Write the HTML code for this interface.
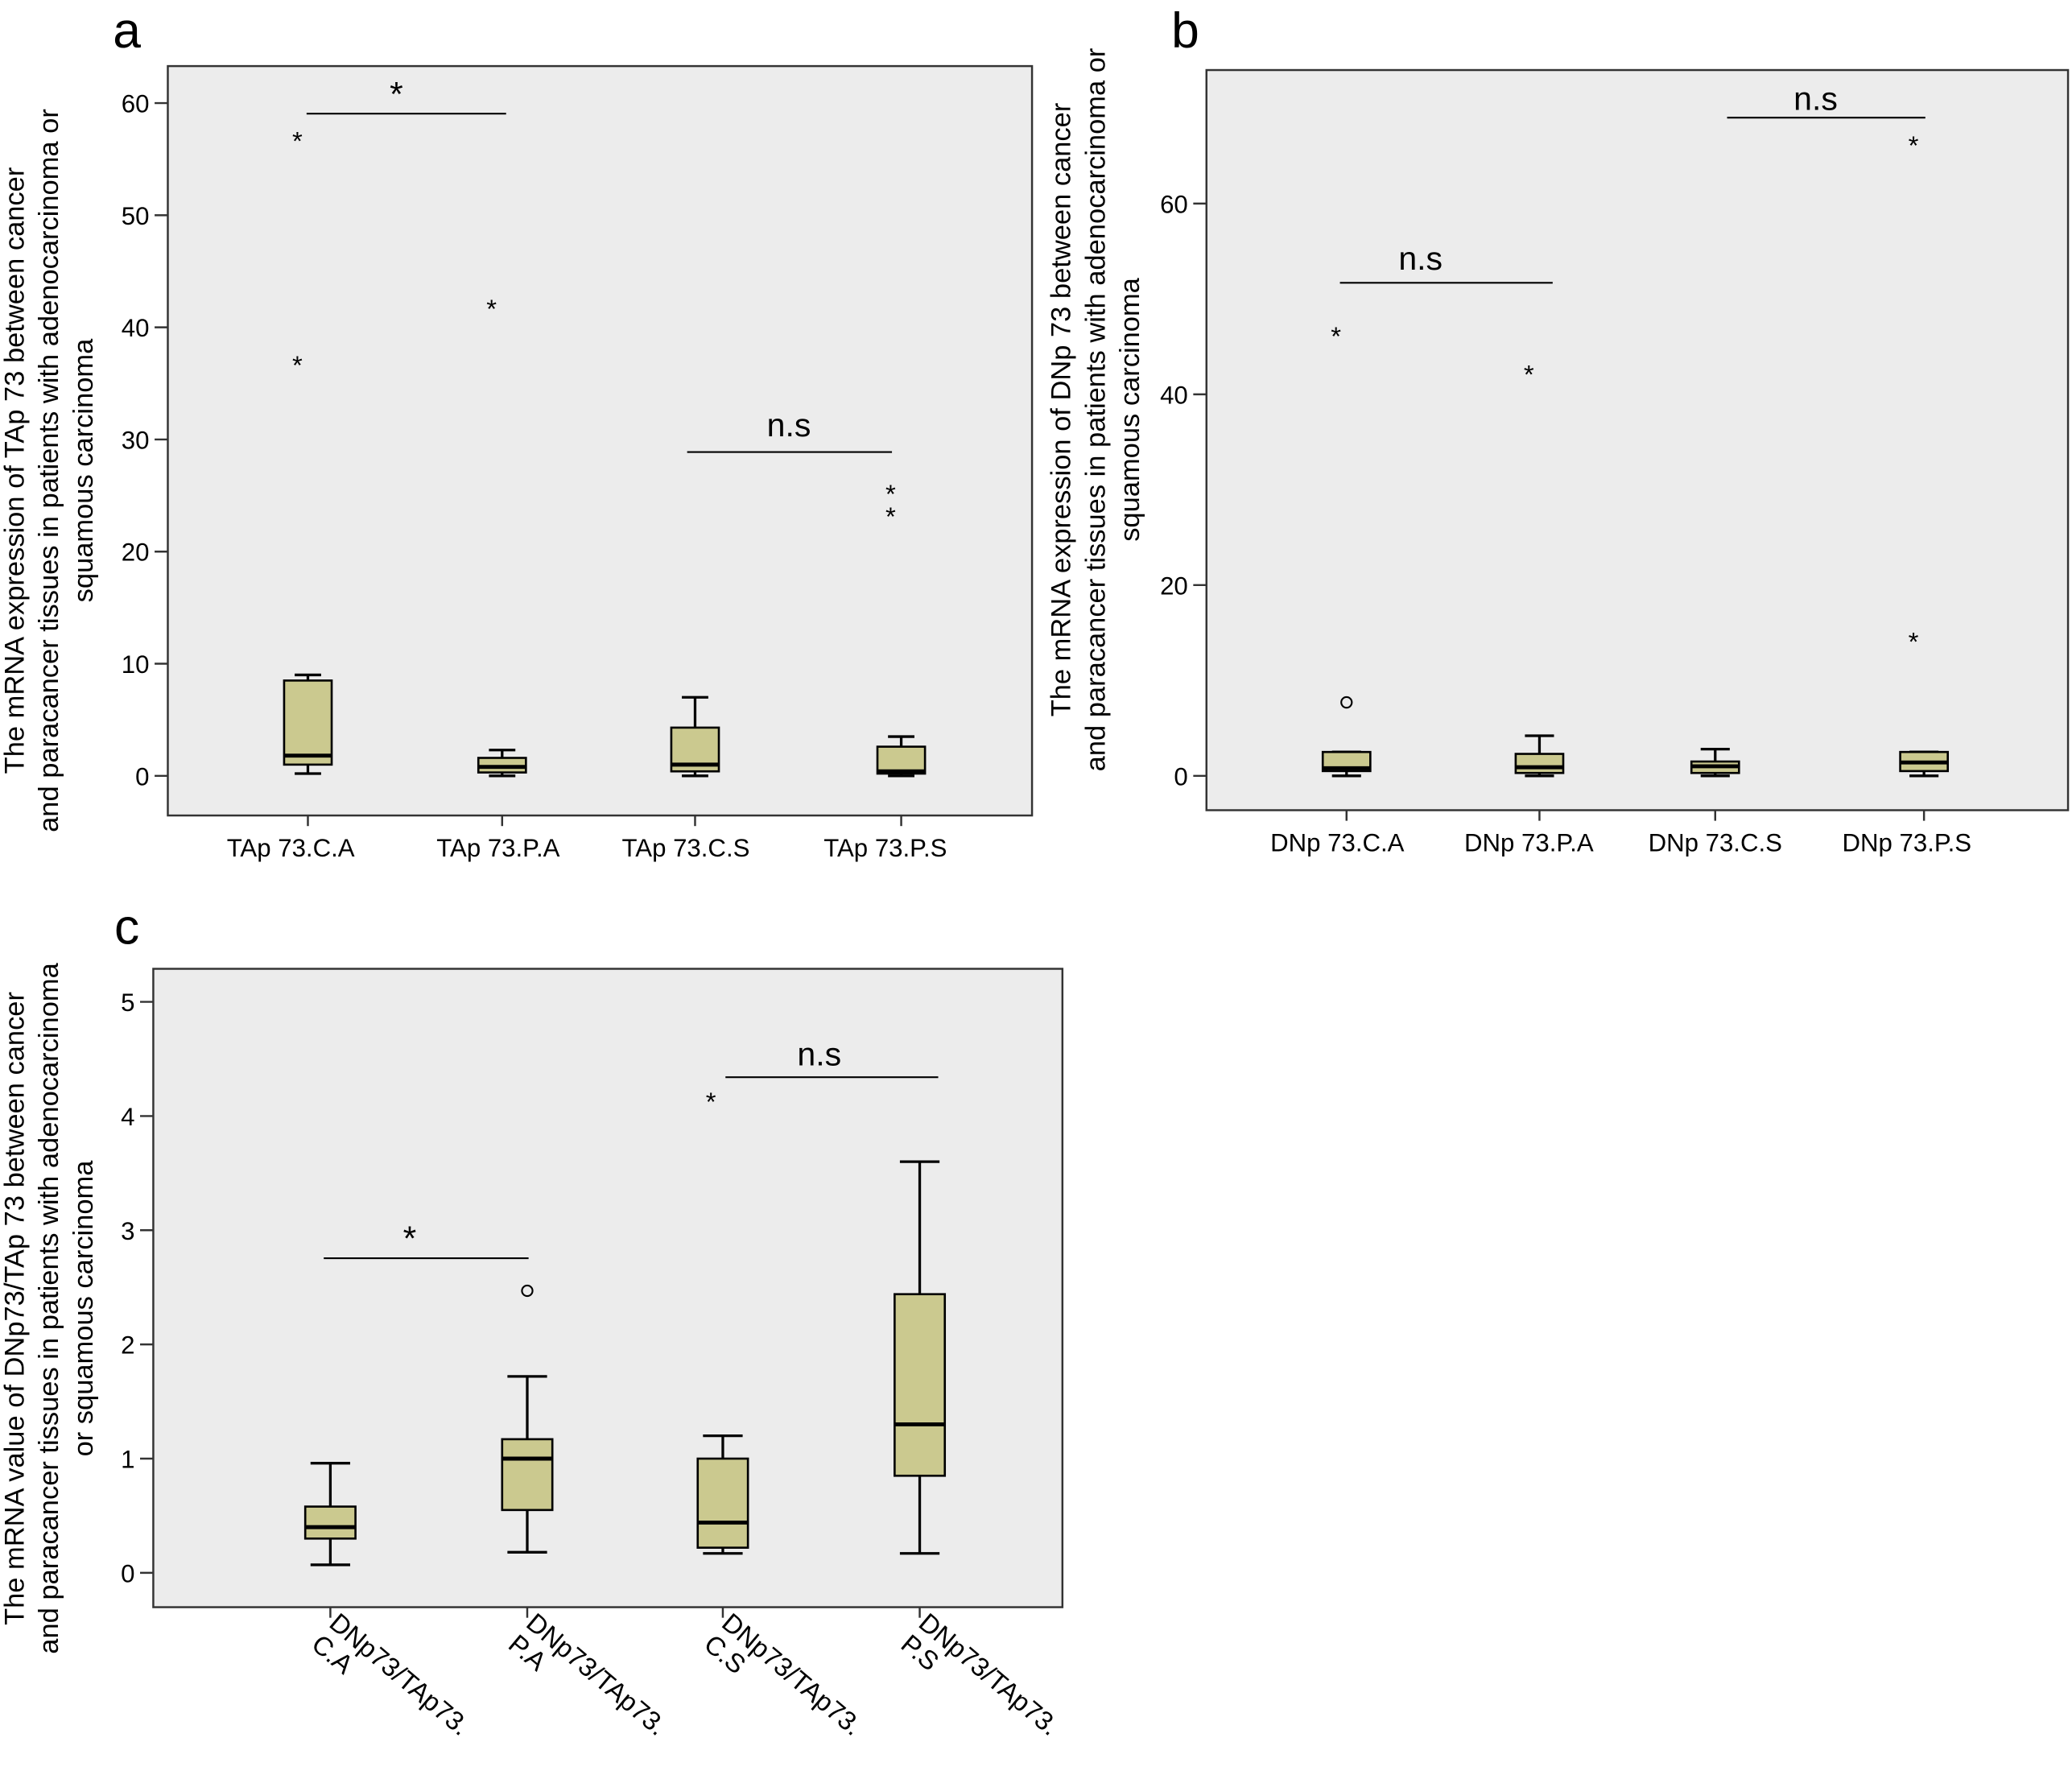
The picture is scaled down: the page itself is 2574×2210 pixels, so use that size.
<!DOCTYPE html>
<html><head><meta charset="utf-8"><style>
html,body{margin:0;padding:0;background:#fff;}
svg{display:block;font-family:"Liberation Sans",Arial,sans-serif;}
</style></head><body>
<svg id="root" width="2574" height="2210" viewBox="0 0 1568 1346" preserveAspectRatio="none" xmlns="http://www.w3.org/2000/svg"></svg>
<script>
// Panel a data
const catsA = ["TAp 73.C.A","TAp 73.P.A","TAp 73.C.S","TAp 73.P.S"];
const lowA = [0.2,0,0,0];
const q1A = [1,0.3,0.4,0.2];
const medA = [1.8,0.8,1,0.4];
const q3A = [8.5,1.6,4.3,2.6];
const highA = [9,2.3,7,3.5];
const starsA = [[57,37],[42],[],[25.5,23.5]];
const circA = [[],[],[],[]];
const ticksA = [0,10,20,30,40,50,60];
// Panel b data
const catsB = ["DNp 73.C.A","DNp 73.P.A","DNp 73.C.S","DNp 73.P.S"];
const lowB = [0,0,0,0];
const q1B = [0.5,0.3,0.3,0.5];
const medB = [0.8,0.9,1,1.4];
const q3B = [2.5,2.3,1.5,2.5];
const highB = [2.5,4.2,2.8,2.5];
const starsB = [[46.5],[42.5],[],[66.5,14.5]];
const circB = [[7.7],[],[],[]];
const ticksB = [0,20,40,60];
// Panel c data
const catsC = ["C.A","P.A","C.S","P.S"];
const lowC = [0.07,0.18,0.17,0.17];
const q1C = [0.3,0.55,0.22,0.85];
const medC = [0.4,1.0,0.44,1.3];
const q3C = [0.58,1.17,1.0,2.44];
const highC = [0.96,1.72,1.2,3.6];
const starsC = [[],[],[4.16],[]];
const circC = [[],[2.47],[],[]];
const ticksC = [0,1,2,3,4,5];

const NS="http://www.w3.org/2000/svg";
const root=document.getElementById('root');
function mk(tag,attrs,parent,text){const e=document.createElementNS(NS,tag);for(const k in attrs)e.setAttribute(k,attrs[k]);if(text!==undefined)e.textContent=text;(parent||root).appendChild(e);return e;}

function panel(cfg){
  const g=mk('g',{});
  
  
  const y=v=>cfg.y0-(v-0)*(cfg.y0-cfg.yTop)/(cfg.vTop);
  const bg=mk('rect',{x:cfg.L,y:cfg.T,width:cfg.R-cfg.L,height:cfg.B-cfg.T,fill:'#ececec',stroke:'#333','stroke-width':1.5},g);
  
  
  cfg.ticks.forEach(t=>{
    const l=mk('line',{x1:cfg.L-10,x2:cfg.L,y1:y(t),y2:y(t),stroke:'#333','stroke-width':1.5},g);
    
    
    const tx=mk('text',{x:cfg.L-14,y:y(t)+7,'text-anchor':'end','font-size':19},g,String(t));
    
    
  });
  cfg.cats.forEach((c,i)=>{
    const x=cfg.xs[i],w=cfg.bw,cw=cfg.cw;
    const bx=mk('g',{},g);
    
    
    mk('line',{x1:x,x2:x,y1:y(cfg.low[i]),y2:y(cfg.high[i]),stroke:'#000','stroke-width':2},bx);
    mk('line',{x1:x-cw/2,x2:x+cw/2,y1:y(cfg.low[i]),y2:y(cfg.low[i]),stroke:'#000','stroke-width':2},bx);
    mk('line',{x1:x-cw/2,x2:x+cw/2,y1:y(cfg.high[i]),y2:y(cfg.high[i]),stroke:'#000','stroke-width':2},bx);
    mk('rect',{x:x-w/2,y:y(cfg.q3[i]),width:w,height:Math.max(1,y(cfg.q1[i])-y(cfg.q3[i])),fill:'#cbc98f',stroke:'#000','stroke-width':1.6},bx);
    mk('line',{x1:x-w/2,x2:x+w/2,y1:y(cfg.med[i]),y2:y(cfg.med[i]),stroke:'#000','stroke-width':3},bx);
    cfg.stars[i].forEach(s=>{
      const st=mk('text',{x:x+(cfg.starDx||0),y:y(s)+10,'text-anchor':'middle','font-size':20},g,'*');
      
      
    });
    cfg.circ[i].forEach(s=>{
      const ci=mk('circle',{cx:x,cy:y(s),r:4,fill:'none',stroke:'#000','stroke-width':1.3},g);
      
      
    });
    if(cfg.rot){
      const t=mk('text',{transform:`translate(${x-2},${cfg.B+14}) rotate(40)`,'font-size':20},g);
      
      
      mk('tspan',{x:0,y:0},t,'DNp73/TAp73.');
      mk('tspan',{x:0,y:21},t,c);
    } else {
      const t=mk('text',{x:cfg.lx[i],y:cfg.B+31,'text-anchor':'middle','font-size':19},g,c);
      
      
    }
    mk('line',{x1:x,x2:x,y1:cfg.B,y2:cfg.B+8,stroke:'#333','stroke-width':1.5},g);
  });
  cfg.sig.forEach(s=>{
    const l=mk('line',{x1:s[0],x2:s[1],y1:s[2],y2:s[2],stroke:'#000','stroke-width':1.3},g);
    
    
    const t=mk('text',{x:s[3],y:s[4],'text-anchor':'middle','font-size':s[5]=='*'?26:25},g,s[5]);
    
    
  });
  const lt=mk('text',{x:cfg.letter[0],y:cfg.letter[1],'font-size':38,'text-anchor':'middle'},g,cfg.id);
  
  
  const yt=mk('text',{transform:`translate(${cfg.yt[0]},${cfg.yt[1]}) rotate(-90)`,'font-size':21,'text-anchor':'middle'},g);
  
  
  cfg.ytl.forEach((s,k)=>mk('tspan',{x:0,y:k*26},yt,s));
}

panel({id:'a',L:127,R:781,T:50,B:617,y0:587,yTop:78,vTop:60,ticks:ticksA,cats:catsA,xs:[233,380,526,682],lx:[220,377,519,670],bw:36,cw:20,
 low:lowA,q1:q1A,med:medA,q3:q3A,high:highA,stars:starsA,circ:circA,starDx:-8,
 sig:[[232,383,86,300,80,'*'],[520,675,342,597,330,'n.s']],letter:[96,36],yt:[18,356],
 ytl:['The mRNA expression of TAp 73 between cancer','and paracancer tissues in patients with adenocarcinoma or','squamous carcinoma']});
panel({id:'b',L:913,R:1565,T:53,B:613,y0:587,yTop:154,vTop:60,ticks:ticksB,cats:catsB,xs:[1019,1165,1298,1456],lx:[1012,1157,1298,1443],bw:36,cw:22,
 low:lowB,q1:q1B,med:medB,q3:q3B,high:highB,stars:starsB,circ:circB,starDx:-8,
 sig:[[1014,1175,214,1075,204,'n.s'],[1307,1457,89,1374,83,'n.s']],letter:[897,36],yt:[810,310],
 ytl:['The mRNA expression of  DNp 73 between cancer','and paracancer tissues in patients with adenocarcinoma or','squamous carcinoma']});
panel({id:'c',L:116,R:804,T:733,B:1216,y0:1190,yTop:758,vTop:5,ticks:ticksC,cats:catsC,xs:[250,399,547,696],bw:38,cw:30,rot:true,
 low:lowC,q1:q1C,med:medC,q3:q3C,high:highC,stars:starsC,circ:circC,starDx:-9,
 sig:[[245,400,952,310,946,'*'],[549,710,815,620,806,'n.s']],letter:[96,714],yt:[18,990],
 ytl:['The mRNA value of DNp73/TAp 73 between cancer','and paracancer tissues in patients with adenocarcinoma','or squamous carcinoma']});
</script>
</body></html>
